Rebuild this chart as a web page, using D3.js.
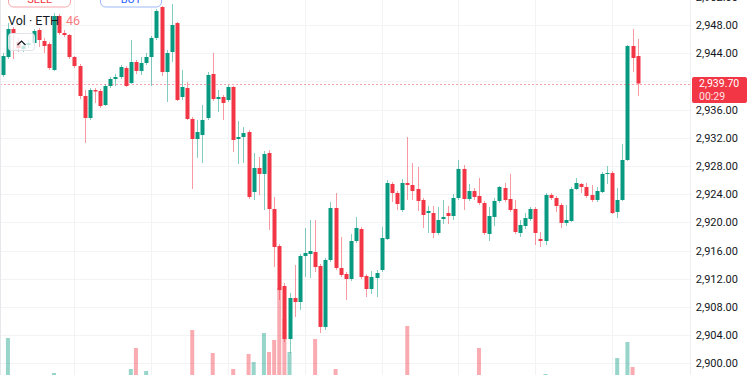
<!DOCTYPE html>
<html><head><meta charset="utf-8">
<script src="https://cdn.jsdelivr.net/npm/d3@7"></script>
<style>html,body{margin:0;padding:0;background:#fff;}svg{display:block;}</style>
</head><body>
<svg id="chart" width="750" height="375"></svg>
<script>
const opens = [2940.91,2943.46,2947.43,2945.59,2944.60,2945.16,2945.45,2947.29,2945.73,2945.30,2941.62,2949.28,2946.87,2946.58,2943.46,2942.18,2937.93,2934.81,2938.78,2938.64,2936.65,2939.35,2940.34,2940.62,2941.90,2939.77,2942.75,2941.48,2942.61,2943.46,2946.16,2950.55,2941.33,2944.17,2948.28,2937.79,2939.06,2934.67,2931.83,2932.40,2934.81,2941.05,2937.50,2937.79,2937.36,2939.21,2931.83,2932.11,2932.82,2924.31,2927.72,2926.87,2929.84,2921.90,2916.65,2910.98,2903.46,2909.28,2908.71,2915.23,2915.52,2915.80,2913.82,2905.17,2914.67,2922.04,2913.53,2912.68,2911.97,2917.36,2919.06,2912.40,2910.55,2912.11,2913.25,2917.65,2925.45,2924.17,2921.76,2925.59,2925.31,2924.74,2923.18,2921.33,2921.33,2918.50,2920.48,2921.33,2920.91,2923.46,2927.58,2923.32,2924.45,2923.75,2922.75,2918.36,2920.77,2923.04,2924.88,2923.32,2921.90,2918.50,2919.49,2920.48,2921.90,2917.65,2917.36,2923.89,2923.46,2922.47,2919.92,2920.20,2924.74,2925.45,2925.02,2923.89,2923.18,2924.31,2926.87,2927.01,2921.48,2923.18,2928.85,2945.02,2943.60];
const highs = [2944.03,2948.28,2947.72,2946.16,2945.45,2945.87,2947.43,2947.57,2946.16,2945.59,2949.70,2949.56,2947.29,2946.72,2943.60,2942.47,2938.78,2939.06,2939.06,2938.92,2939.63,2940.62,2941.05,2942.33,2942.18,2945.87,2943.04,2943.46,2944.03,2946.44,2950.27,2950.69,2944.45,2950.98,2948.43,2941.62,2939.92,2934.95,2934.53,2936.65,2941.33,2944.03,2938.78,2938.07,2939.49,2939.35,2934.38,2933.53,2933.11,2929.84,2929.28,2930.13,2930.27,2923.60,2916.94,2911.41,2909.99,2913.96,2915.52,2919.21,2920.34,2920.34,2914.10,2914.95,2922.89,2924.17,2917.93,2912.97,2918.36,2920.77,2919.35,2912.68,2913.11,2913.25,2919.35,2926.02,2925.73,2924.45,2926.16,2932.11,2928.43,2927.86,2923.46,2922.33,2922.33,2922.18,2923.18,2922.33,2924.03,2928.85,2928.14,2925.45,2924.88,2926.30,2923.04,2922.18,2923.46,2925.17,2925.59,2926.87,2923.18,2920.34,2921.33,2922.18,2922.18,2918.64,2924.17,2924.17,2923.75,2922.75,2922.47,2925.02,2926.30,2925.59,2925.59,2925.31,2925.02,2927.15,2928.00,2927.29,2924.88,2931.12,2945.16,2947.43,2946.01];
const lows = [2940.62,2943.18,2943.18,2944.17,2944.17,2944.74,2945.16,2944.88,2944.03,2941.62,2941.48,2946.58,2946.30,2943.18,2941.90,2937.50,2931.26,2934.53,2936.94,2936.23,2936.51,2939.06,2939.35,2940.34,2939.21,2939.63,2941.05,2940.91,2942.33,2939.35,2945.87,2940.77,2937.08,2942.75,2937.22,2937.36,2934.53,2924.74,2929.14,2928.43,2934.53,2937.22,2935.66,2934.53,2937.08,2929.99,2928.28,2928.43,2923.32,2923.18,2923.89,2921.76,2918.92,2913.67,2909.00,2903.04,2901.48,2906.59,2907.58,2912.26,2912.11,2912.97,2904.31,2904.74,2914.38,2913.25,2912.26,2909.00,2911.69,2917.08,2911.97,2909.42,2909.84,2909.42,2912.97,2917.50,2922.89,2921.76,2921.48,2923.18,2923.18,2921.62,2919.21,2918.50,2917.79,2918.21,2919.77,2919.77,2920.34,2923.18,2921.76,2923.04,2923.18,2922.47,2918.21,2917.36,2919.49,2922.75,2922.89,2921.48,2918.36,2917.93,2919.06,2920.20,2916.80,2916.51,2916.80,2923.18,2921.48,2919.21,2919.49,2920.06,2924.60,2924.17,2923.46,2922.89,2922.89,2924.17,2925.45,2921.19,2920.62,2923.04,2928.71,2941.33,2937.93];
const closes = [2943.60,2947.43,2946.72,2944.74,2945.02,2945.45,2947.15,2945.87,2945.02,2941.90,2949.28,2946.87,2946.58,2943.46,2942.18,2937.93,2934.81,2938.78,2938.57,2936.51,2939.35,2940.34,2940.62,2942.04,2939.35,2942.75,2941.48,2942.61,2943.46,2946.16,2949.99,2941.33,2944.03,2948.00,2937.36,2939.21,2934.67,2931.83,2932.82,2934.53,2940.91,2937.50,2937.79,2936.94,2939.21,2931.69,2932.11,2932.68,2923.60,2927.72,2926.87,2929.70,2921.90,2916.51,2910.41,2903.46,2909.28,2908.71,2915.23,2915.66,2915.94,2913.67,2905.17,2914.67,2922.04,2913.53,2912.54,2911.97,2917.36,2919.21,2912.26,2910.55,2912.26,2912.82,2917.79,2925.59,2924.17,2922.61,2925.59,2925.31,2924.45,2923.04,2921.05,2921.62,2918.50,2920.34,2920.77,2920.91,2923.46,2927.58,2923.32,2924.45,2923.60,2922.75,2918.50,2920.91,2923.04,2925.02,2923.18,2921.76,2918.64,2919.63,2920.62,2921.90,2918.50,2917.36,2923.89,2923.46,2922.33,2919.92,2920.34,2924.74,2925.59,2925.02,2923.75,2923.18,2924.45,2926.87,2927.01,2921.33,2923.18,2928.85,2945.02,2943.32,2939.70];
const volumes = [30,235,35,25,20,25,30,35,25,40,60,45,20,35,30,40,45,30,20,25,30,20,15,25,30,80,185,30,70,40,45,50,40,45,50,30,40,275,35,40,45,160,25,30,35,80,25,20,155,115,30,260,165,225,485,330,165,40,45,30,25,230,45,40,45,80,30,25,35,30,40,35,25,20,30,45,30,25,30,295,35,30,25,20,30,25,20,25,30,45,40,30,25,185,40,35,25,30,35,40,30,25,20,25,30,20,55,25,20,30,25,35,30,20,25,30,25,40,20,35,135,45,215,90,46];
const priceTicks = [2900,2904,2908,2912,2916,2920,2924,2928,2932,2936,2940,2944,2948,2952];
const lastPrice = 2939.70;
const countdown = "00:29";
const volLabel = "Vol · ETH";
const volValue = "46";

const W = 750, H = 375, plotRight = 690;
const up = "#089981", down = "#f23645";
const svg = d3.select("#chart");
const idx = d3.range(opens.length);

const x = d3.scaleBand().domain(idx).range([0.24, 0.24 + opens.length * 5.12]).padding(0);
const y = d3.scaleLinear().domain([2900, 2948]).range([363.4, 25]);
const vy = d3.scaleLinear().domain([0, 500]).range([385, 285]);
const cx = i => x(i) + x.bandwidth() / 2;

// grid
const g = svg.append("g");
g.selectAll("line.h").data(priceTicks).join("line")
  .attr("x1", 0).attr("x2", plotRight)
  .attr("y1", d => Math.round(y(d)) + 0.5).attr("y2", d => Math.round(y(d)) + 0.5)
  .attr("stroke", "#f2f3f5").attr("stroke-width", 1);
const vgrid = idx.filter(i => i % 15 === 14);
g.selectAll("line.v").data(vgrid).join("line")
  .attr("x1", d => Math.round(cx(d)) + 0.5).attr("x2", d => Math.round(cx(d)) + 0.5)
  .attr("y1", 0).attr("y2", H)
  .attr("stroke", "#f2f3f5").attr("stroke-width", 1);

// volume
const vb = svg.append("g");
vb.selectAll("rect").data(idx).join("rect")
  .attr("x", i => cx(i) - 2)
  .attr("width", 4)
  .attr("y", i => vy(volumes[i]))
  .attr("height", i => vy(0) - vy(volumes[i]))
  .attr("fill", i => closes[i] >= opens[i] ? up : down)
  .attr("opacity", 0.42);

// candles
const cg = svg.append("g");
cg.selectAll("line").data(idx).join("line")
  .attr("x1", i => Math.round(cx(i)) + 0.5).attr("x2", i => Math.round(cx(i)) + 0.5)
  .attr("y1", i => y(highs[i])).attr("y2", i => y(lows[i]))
  .attr("stroke", i => closes[i] >= opens[i] ? up : down)
  .attr("stroke-opacity", 0.5).attr("stroke-width", 1);
cg.selectAll("rect").data(idx).join("rect")
  .attr("x", i => Math.round(cx(i)) - 1.5)
  .attr("width", 4)
  .attr("y", i => y(Math.max(opens[i], closes[i])))
  .attr("height", i => Math.max(1, Math.abs(y(opens[i]) - y(closes[i]))))
  .attr("fill", i => closes[i] >= opens[i] ? up : down);

// last price dashed line
svg.append("line").attr("x1", 0).attr("x2", plotRight)
  .attr("y1", Math.round(y(lastPrice)) + 0.5).attr("y2", Math.round(y(lastPrice)) + 0.5)
  .attr("stroke", down).attr("stroke-opacity", 0.45)
  .attr("stroke-dasharray", "2,2").attr("stroke-width", 1);

// price axis area
svg.append("rect").attr("x", plotRight).attr("y", 0).attr("width", W - plotRight).attr("height", H).attr("fill", "#fff");
svg.append("line").attr("x1", plotRight + 0.5).attr("x2", plotRight + 0.5).attr("y1", 0).attr("y2", H).attr("stroke", "#eceef2");
svg.append("line").attr("x1", 0.5).attr("x2", 0.5).attr("y1", 0).attr("y2", H).attr("stroke", "#e6e7ea");

const axis = d3.axisRight(y).tickValues(priceTicks).tickFormat(d3.format(",.2f")).tickSize(0).tickPadding(0);
const ax = svg.append("g").attr("transform", `translate(${plotRight},0)`).call(axis);
ax.select(".domain").remove();
ax.selectAll(".tick").filter(d => d === 2940).remove();
ax.selectAll("text").attr("x", 48).attr("text-anchor", "end")
  .attr("fill", "#131722").style("font-family", "Roboto, 'Noto Sans', sans-serif").style("font-size", "11px");

// last price label
svg.append("rect").attr("x", 692).attr("y", 77).attr("width", 55).attr("height", 26).attr("rx", 2).attr("fill", down);
svg.append("text").attr("x", 699).attr("y", 87).text(d3.format(",.2f")(lastPrice))
  .attr("fill", "#fff").style("font-family", "Roboto, sans-serif").style("font-size", "10.5px");
svg.append("text").attr("x", 699).attr("y", 100).text(countdown)
  .attr("fill", "#fde4e6").style("font-family", "Roboto, sans-serif").style("font-size", "10.5px");

// buttons (cut off at top)
svg.append("rect").attr("x", 8.5).attr("y", -14).attr("width", 62).attr("height", 21).attr("rx", 5)
  .attr("fill", "#fff").attr("stroke", "#f7a6ac");
svg.append("text").attr("x", 39.5).attr("y", 3).attr("text-anchor", "middle").text("SELL")
  .attr("fill", down).style("font-family", "Roboto, sans-serif").style("font-size", "11px");
svg.append("rect").attr("x", 100.5).attr("y", -14).attr("width", 61).attr("height", 21).attr("rx", 5)
  .attr("fill", "#fff").attr("stroke", "#9db8f7");
svg.append("text").attr("x", 131).attr("y", 3).attr("text-anchor", "middle").text("BUY")
  .attr("fill", "#2962ff").style("font-family", "Roboto, sans-serif").style("font-size", "11px");

// legend
const lg = svg.append("text").attr("x", 8).attr("y", 25).style("font-family", "Roboto, sans-serif").style("font-size", "12.5px");
lg.append("tspan").text(volLabel + " ").attr("fill", "#131722");
lg.append("tspan").attr("dx", 4).text(volValue).attr("fill", "#f77c80");

// collapse button
svg.append("rect").attr("x", 8.5).attr("y", 33.5).attr("width", 26).attr("height", 17).attr("rx", 3)
  .attr("fill", "#fff").attr("fill-opacity", 0.75).attr("stroke", "#e0e3eb");
svg.append("path").attr("d", "M17.5,45 L21.5,41 L25.5,45").attr("fill", "none").attr("stroke", "#131722").attr("stroke-width", 1.2);
</script>
</body></html>
